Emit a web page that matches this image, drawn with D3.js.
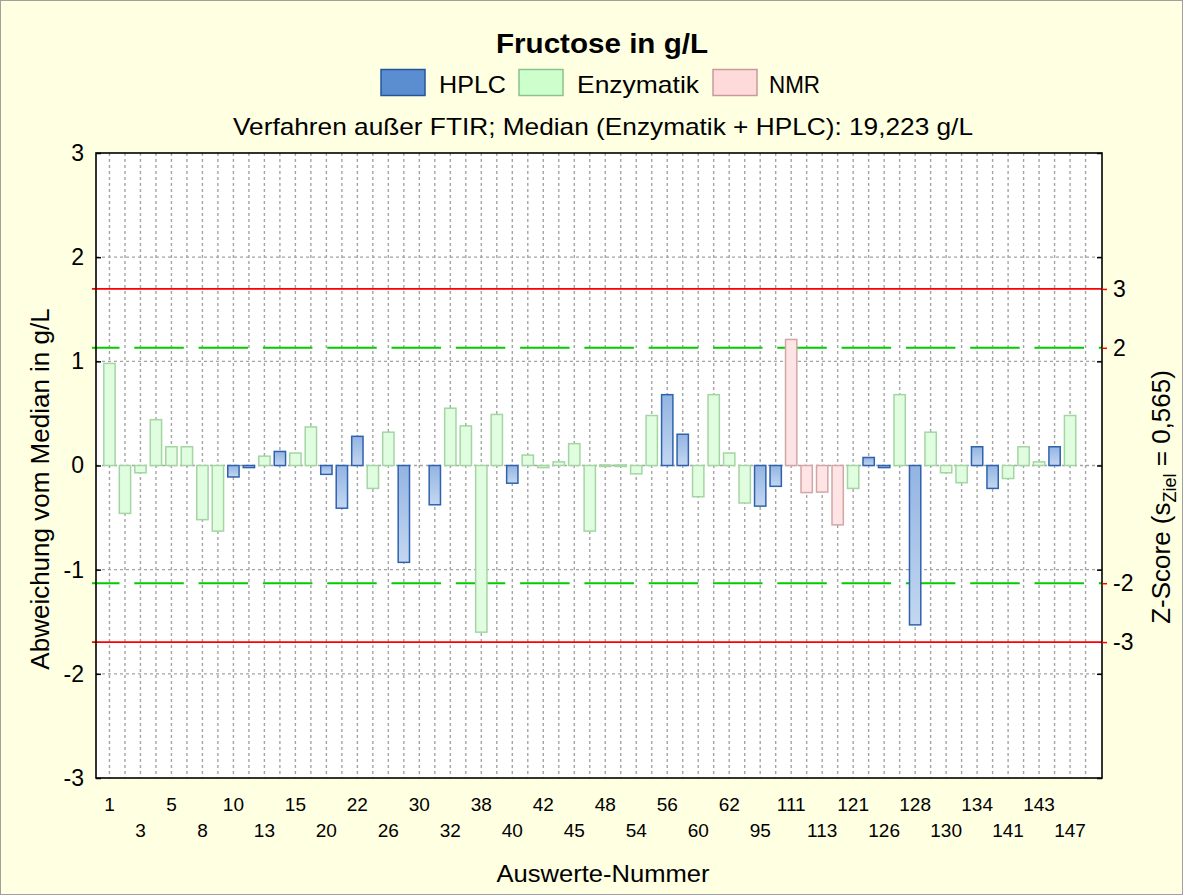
<!DOCTYPE html>
<html><head><meta charset="utf-8">
<script src="https://cdn.jsdelivr.net/npm/d3@7"></script>
<style>
html,body{margin:0;padding:0;background:#ffffe1;}
svg{display:block;font-family:"Liberation Sans",Arial,sans-serif;}
</style></head>
<body>
<svg id="c" width="1183" height="895"></svg>
<script>
// ---- data ----
const ids = [1,2,3,4,5,6,8,9,10,11,13,14,15,17,20,21,22,24,26,28,30,31,32,35,38,39,40,41,42,43,45,46,48,51,54,55,56,58,60,61,62,65,95,101,111,112,113,116,121,123,126,127,128,129,130,132,134,138,141,142,143,145,147,149];
const values = [0.98,-0.46,-0.07,0.44,0.18,0.18,-0.52,-0.63,-0.11,-0.02,0.09,0.135,0.12,0.37,-0.085,-0.41,
  0.28,-0.22,0.32,-0.93,null,-0.377,0.55,0.38,-1.60,0.49,-0.17,0.10,-0.02,0.035,0.21,-0.63,
  0.005,0.005,-0.08,0.48,0.68,0.30,-0.30,0.68,0.12,-0.36,-0.39,-0.20,1.21,-0.26,-0.255,-0.57,
  -0.22,0.077,-0.02,0.68,-1.53,0.32,-0.07,-0.165,0.18,-0.22,-0.125,0.18,0.035,0.18,0.48,null];
const methods = ["E","E","E","E","E","E","E","E","H","H","E","H","E","E","H","H",
  "H","E","E","H","E","H","E","E","E","E","H","E","E","E","E","E",
  "E","E","E","E","H","H","E","E","E","E","H","H","N","N","N","N",
  "E","H","H","E","H","E","E","E","H","H","E","E","E","H","E","E"];
const legendNames = ["HPLC","Enzymatik","NMR"];
const yTicks = [-3,-2,-1,0,1,2,3];
const zTicks = [-3,-2,2,3];
const sZiel = 0.565;
const titleText = "Fructose in g/L";
const subtitleText = "Verfahren außer FTIR; Median (Enzymatik + HPLC): 19,223 g/L";

// ---- layout ----
const W=1183,H=895;
const L=96,R=1102,T=153,B=778;
const svg=d3.select("#c");
svg.append("rect").attr("x",0.5).attr("y",0.5).attr("width",W-1).attr("height",H-1)
  .attr("fill","#ffffe1").attr("stroke","#a0a0a0");

const x=d3.scaleBand().domain(d3.range(ids.length)).range([L,R]).paddingInner(0.27).paddingOuter(0.6).align(0.42);
const y=d3.scaleLinear().domain([-3,3]).range([B,T]);

const defs=svg.append("defs");
const g1=defs.append("linearGradient").attr("id","blueGrad").attr("x1",0).attr("y1",0).attr("x2",0).attr("y2",1);
g1.append("stop").attr("offset","0%").attr("stop-color","#93b4e2");
g1.append("stop").attr("offset","100%").attr("stop-color","#c3d7f1");
const clip=defs.append("clipPath").attr("id","plotclip");
clip.append("rect").attr("x",L).attr("y",T).attr("width",R-L).attr("height",B-T);

svg.append("rect").attr("x",L).attr("y",T).attr("width",R-L).attr("height",B-T).attr("fill","#ffffff");

const grid=svg.append("g").attr("clip-path","url(#plotclip)");
grid.selectAll("line.v").data(d3.range(ids.length)).join("line")
  .attr("x1",i=>x(i)+x.bandwidth()/2).attr("x2",i=>x(i)+x.bandwidth()/2)
  .attr("y1",T).attr("y2",B).attr("stroke","#a4a4a4").attr("stroke-width",1.4).attr("stroke-dasharray","3,3");
grid.selectAll("line.h").data(yTicks.filter(d=>d>-3&&d<3)).join("line")
  .attr("x1",L).attr("x2",R).attr("y1",d=>y(d)).attr("y2",d=>y(d))
  .attr("stroke","#a4a4a4").attr("stroke-width",1.4).attr("stroke-dasharray","3,3");

const lim=svg.append("g");
[2,-2].forEach(z=>{
  lim.append("line").attr("x1",L).attr("x2",R).attr("y1",y(z*sZiel)).attr("y2",y(z*sZiel))
    .attr("stroke","#00cc00").attr("stroke-width",2).attr("stroke-dasharray","49.5,14.8").attr("stroke-dashoffset",26);
  lim.append("line").attr("x1",L-4).attr("x2",L).attr("y1",y(z*sZiel)).attr("y2",y(z*sZiel))
    .attr("stroke","#00cc00").attr("stroke-width",2);
});
[3,-3].forEach(z=>{
  lim.append("line").attr("x1",L-4).attr("x2",R).attr("y1",y(z*sZiel)).attr("y2",y(z*sZiel))
    .attr("stroke","#ff0000").attr("stroke-width",1.8);
});

const styles={H:{fill:"url(#blueGrad)",stroke:"#2f62ad"},E:{fill:"#e0fde0",stroke:"#a3d6a3"},N:{fill:"#fee4e4",stroke:"#d2a6a6"}};
const data=ids.map((id,i)=>({i,id,v:values[i],m:methods[i]})).filter(d=>d.v!==null);
svg.append("g").selectAll("rect").data(data).join("rect")
  .attr("x",d=>x(d.i)).attr("width",x.bandwidth())
  .attr("y",d=>y(Math.max(0,d.v))).attr("height",d=>Math.max(1.5,Math.abs(y(d.v)-y(0))))
  .attr("fill",d=>styles[d.m].fill).attr("stroke",d=>styles[d.m].stroke).attr("stroke-width",1.5);

svg.append("rect").attr("x",L).attr("y",T).attr("width",R-L).attr("height",B-T)
  .attr("fill","none").attr("stroke","#000").attr("stroke-width",1.6);

const FONT="Liberation Sans, Arial, sans-serif";
const la=svg.append("g").attr("transform",`translate(${L},0)`)
  .call(d3.axisLeft(y).tickValues(yTicks).tickSize(-5).tickPadding(12).tickFormat(d=>String(d)));
la.select(".domain").remove();
la.selectAll("line").attr("stroke","#000").attr("stroke-width",1.5);
la.selectAll("text").attr("font-size",23).attr("fill","#000").attr("font-family",FONT);

const ra=svg.append("g").attr("transform",`translate(${R},0)`)
  .call(d3.axisRight(y).tickValues(yTicks).tickSize(-5).tickFormat(""));
ra.select(".domain").remove();
ra.selectAll("line").attr("stroke","#000").attr("stroke-width",1.5);
const za=svg.append("g").attr("transform",`translate(${R},0)`)
  .call(d3.axisRight(y).tickValues(zTicks.map(z=>z*sZiel)).tickSize(5).tickPadding(6).tickFormat((d,i)=>String(zTicks[i])));
za.select(".domain").remove();
za.selectAll("line").attr("stroke","#ff0000").attr("stroke-width",1.5);
za.selectAll("text").attr("font-size",23).attr("fill","#000").attr("font-family",FONT);

const xl=svg.append("g");
ids.forEach((id,i)=>{
  if(i%2!==0) return;
  const row=(i/2)%2;
  xl.append("text").attr("x",x(i)+x.bandwidth()/2).attr("y",row===0?811:837)
    .attr("text-anchor","middle").attr("font-size",19).attr("fill","#000").text(id);
});

svg.append("text").attr("x",602).attr("y",53).attr("text-anchor","middle")
  .attr("font-size",27).attr("font-weight","bold").attr("fill","#000")
  .attr("textLength",212).attr("lengthAdjust","spacingAndGlyphs").text(titleText);
svg.append("text").attr("x",603).attr("y",135).attr("text-anchor","middle")
  .attr("font-size",24).attr("fill","#000")
  .attr("textLength",740).attr("lengthAdjust","spacingAndGlyphs").text(subtitleText);
svg.append("text").attr("x",603).attr("y",882).attr("text-anchor","middle")
  .attr("font-size",23).attr("fill","#000")
  .attr("textLength",213).attr("lengthAdjust","spacingAndGlyphs").text("Auswerte-Nummer");
svg.append("text").attr("transform","translate(49,489) rotate(-90)").attr("text-anchor","middle")
  .attr("font-size",26).attr("fill","#000").text("Abweichung vom Median in g/L");
const zt=svg.append("text").attr("transform","translate(1170,497) rotate(-90)").attr("text-anchor","middle")
  .attr("font-size",26).attr("fill","#000");
zt.append("tspan").text("Z-Score (s");
zt.append("tspan").attr("font-size",18).attr("dy",6).text("Ziel");
zt.append("tspan").attr("dy",-6).text(" = 0,565)");

const leg=[{n:legendNames[0],f:"#5b8dd1",s:"#24569a",x:381,tx:439,w:67},
           {n:legendNames[1],f:"#ccffcc",s:"#8ac48a",x:519,tx:577,w:122},
           {n:legendNames[2],f:"#ffdada",s:"#c99a9a",x:713,tx:769,w:51}];
leg.forEach(d=>{
  svg.append("rect").attr("x",d.x).attr("y",69.5).attr("width",44).attr("height",26)
    .attr("fill",d.f).attr("stroke",d.s).attr("stroke-width",1.5);
  svg.append("text").attr("x",d.tx).attr("y",93).attr("font-size",24).attr("fill","#000")
    .attr("textLength",d.w).attr("lengthAdjust","spacingAndGlyphs").text(d.n);
});
</script>
</body></html>
